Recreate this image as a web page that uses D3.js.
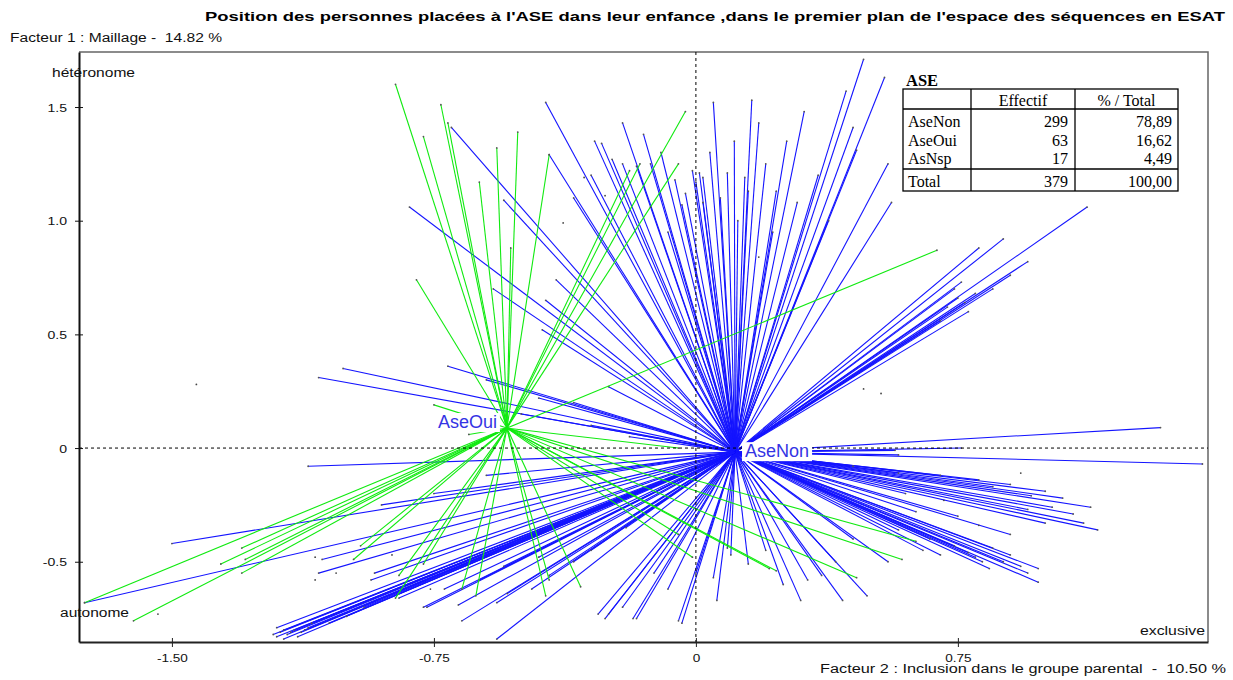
<!DOCTYPE html>
<html>
<head>
<meta charset="utf-8">
<script src="https://cdn.jsdelivr.net/npm/d3@7"></script>
<style>
  html, body { margin: 0; padding: 0; background: #fff; }
  svg { display: block; }
  text { white-space: pre; }
</style>
</head>
<body>
<svg id="chart" width="1233" height="680"></svg>
<script>
// ---- data -------------------------------------------------------------
const titleText = "Position des personnes placées à l'ASE dans leur enfance ,dans le premier plan de l'espace des séquences en ESAT";
const factor1Label = "Facteur 1 : Maillage -  14.82 %";
const factor2Label = "Facteur 2 : Inclusion dans le groupe parental  -  10.50 %";

const xTicks = [-1.5, -0.75, 0, 0.75];
const xTickLabels = ["-1.50", "-0.75", "0", "0.75"];
const yTicks = [1.5, 1.0, 0.5, 0, -0.5];
const yTickLabels = ["1.5", "1.0", "0.5", "0", "-0.5"];

// category barycentres (factor 2, factor 1)
const aseNonCenter = [0.112, -0.018];
const aseOuiCenter = [-0.541, 0.088];

// individuals of category AseNon
const aseNonPoints = [
  [-0.82,1.06],[-0.70,1.41],[-0.43,1.52],[-0.55,1.09],[-0.58,0.70],[-0.40,0.74],[-0.43,0.65],[-0.44,0.52],
  [-0.42,1.29],[-0.29,1.35],[-0.27,1.34],[-0.24,1.27],[-0.21,1.25],[-0.21,1.43],[-0.15,1.38],[-0.13,1.25],
  [-0.17,1.24],[-0.01,1.22],[0.01,1.21],[-0.04,1.07],[-0.03,1.12],[0.00,1.17],[0.02,1.19],[0.02,1.08],
  [0.05,1.52],[0.09,1.21],[0.14,1.19],[0.15,1.13],[0.16,1.53],[0.18,1.43],[0.23,1.13],[0.29,1.08],
  [0.31,1.48],[0.48,1.71],[0.54,1.63],[0.43,1.57],[0.45,1.41],[0.46,1.31],[0.55,1.25],[0.56,1.08],
  [-0.10,1.30],[-0.06,1.18],[0.04,1.30],[0.07,1.10],[0.11,1.35],[0.12,1.00],[0.20,1.25],[0.26,1.35],
  [0.35,1.20],[0.38,1.00],[-0.35,1.10],[-0.30,1.20],[-0.08,0.95],[0.22,0.95],
  [0.81,0.88],[0.88,0.92],[1.12,1.06],[0.95,0.82],[0.76,0.73],[0.77,0.64],[0.74,0.70],[0.80,0.68],
  [0.72,0.62],[0.75,0.66],[0.78,0.60],[0.70,0.56],[0.85,0.70],[0.90,0.76],
  [-1.01,0.35],[-1.08,0.31],[-0.71,0.36],[-1.11,-0.08],[-0.19,0.05],
  [-0.35,0.20],[-0.45,0.22],[-0.60,0.30],[-0.25,0.27],[-0.50,0.15],[-0.30,0.10],
  [-0.90,-0.25],[-0.75,-0.20],[-0.60,-0.12],
  [1.33,0.09],[1.45,-0.07],[0.76,0.00],[0.57,-0.01],[0.58,-0.03],[1.00,-0.19],[1.13,-0.26],[1.02,-0.26],
  [1.11,-0.33],[1.15,-0.36],[0.90,-0.16],[0.96,-0.21],[0.81,-0.14],[0.58,-0.11],
  [0.45,-0.08],[0.70,-0.12],[0.85,-0.17],[1.05,-0.22],[1.08,-0.29],[0.95,-0.27],[1.00,-0.33],[0.90,-0.38],
  [0.60,-0.20],[0.75,-0.30],
  [0.85,-0.44],[0.98,-0.53],[0.98,-0.59],[0.84,-0.53],[0.63,-0.28],[0.70,-0.47],[0.49,-0.65],[0.42,-0.67],
  [0.80,-0.48],[0.74,-0.43],[0.67,-0.40],[0.58,-0.36],[0.88,-0.50],[0.93,-0.52],
  [0.78,-0.46],[0.82,-0.50],[0.90,-0.47],[0.95,-0.55],[0.65,-0.45],[0.55,-0.50],[0.45,-0.40],[0.40,-0.50],
  [0.25,-0.60],[0.20,-0.45],
  [0.30,-0.67],[0.32,-0.58],[0.36,-0.56],[0.15,-0.51],[0.10,-0.47],[0.09,-0.44],[0.06,-0.67],[0.05,-0.57],
  [-0.04,-0.77],[-0.05,-0.76],[-0.18,-0.75],[-0.17,-0.75],[-0.21,-0.70],[-0.25,-0.73],[-0.28,-0.73],[-0.26,-0.75],
  [-0.20,-0.35],[-0.12,-0.55],[-0.08,-0.62],[0.00,-0.55],
  [-0.57,-0.84],[-0.67,-0.76],[-0.77,-0.70],[-0.68,-0.69],[-0.42,-0.56],[-0.47,-0.62],[-0.54,-0.64],[-0.57,-0.68],
  [-0.30,-0.45],[-0.35,-0.50],[-0.45,-0.48],[-0.55,-0.52],[-0.62,-0.58],[-0.72,-0.62],[-0.85,-0.66],[-0.95,-0.70],
  [-1.00,-0.74],[-1.05,-0.77],
  [-0.78,-0.70],[-0.92,-0.55],[-0.93,-0.58],[-1.07,-0.49],[-1.08,-0.55],[-1.50,-0.42],[-1.75,-0.68],
  [-1.20,-0.83],[-1.18,-0.84],[-1.16,-0.81],[-1.14,-0.83],[-1.12,-0.80],[-1.18,-0.80],[-1.11,-0.79],
  [-1.20,-0.79],[-1.17,-0.82],[-1.13,-0.81],[-1.19,-0.81],[-1.15,-0.80],[-1.10,-0.77],[-1.21,-0.82]
];

// individuals of category AseOui
const aseOuiPoints = [
  [-0.86,1.60],[-0.73,1.51],[-0.78,1.37],[-0.80,0.74],[-0.71,1.43],[-0.51,1.39],[-0.57,1.32],[-0.62,1.17],
  [-0.53,0.88],[-0.42,1.29],[-0.03,1.48],[-0.16,1.25],[-0.05,1.25],[-0.19,1.22],[0.69,0.87],
  [0.23,-0.54],[0.21,-0.53],[-0.01,-0.48],[-0.05,-0.38],[-0.43,-0.65],[-0.33,-0.61],[-0.42,-0.58],
  [-0.63,-0.65],[-0.67,-0.62],[0.63,-0.41],[0.59,-0.49],[0.46,-0.57],
  [-1.75,-0.68],[-1.61,-0.76],[-1.36,-0.51],[-1.30,-0.44],[-1.29,-0.49],[-1.30,-0.55],[-0.98,-0.49],
  [-0.96,-0.43],[-0.86,-0.66],[-0.85,-0.56],[-0.78,-0.51],[-0.75,0.19],[-0.65,0.06],[-0.05,0.00]
];

// individuals without an answer (AsNsp), shown as bare points
const asNspPoints = [
  [-1.43,0.28],[-1.54,-0.73],[-1.09,-0.48],[-1.03,-0.55],[-1.09,-0.58],[-0.87,-0.47],[-0.76,-0.62],
  [0.48,0.26],[0.53,0.24],[0.93,-0.11],[0.81,-0.34],[0.71,-0.23],[-0.38,0.99],[-0.32,1.19],
  [-0.26,1.11],[-0.13,1.06],[0.18,0.84]
];

// frequency table
const tableTitle = "ASE";
const tableHeaders = ["Effectif", "% / Total"];
const tableRows = ["AseNon", "AseOui", "AsNsp"];
const tableCounts = [299, 63, 17];
const tablePercents = ["78,89", "16,62", "4,49"];
const totalLabel = "Total";
const totalCount = 379;
const totalPercent = "100,00";

// ---- layout -------------------------------------------------------------
const svg = d3.select("#chart");
const pL = 79, pR = 1208, pT = 52, pB = 642;
const sans = "Arial, 'Liberation Sans', sans-serif";
const serif = "'Times New Roman', 'Liberation Serif', serif";

const x = d3.scaleLinear().domain([-1.766, 1.466]).range([pL, pR]);
const y = d3.scaleLinear().domain([-0.853, 1.742]).range([pB, pT]);

svg.append("rect").attr("width", 1233).attr("height", 680).attr("fill", "#fff");

// stretch a text node horizontally to a target width (or by a factor)
function stretch(sel, target) {
  sel.each(function () {
    const w = this.getComputedTextLength();
    const t = typeof target === "number" && target > 5 ? target : w * (target || 1.2);
    d3.select(this).attr("textLength", t).attr("lengthAdjust", "spacingAndGlyphs");
  });
}

// titles
svg.append("text").attr("x", 205).attr("y", 21)
  .attr("font-family", sans).attr("font-size", 13.5).attr("font-weight", "bold")
  .text(titleText).call(stretch, 1020);
svg.append("text").attr("x", 10).attr("y", 42)
  .attr("font-family", sans).attr("font-size", 12.5).attr("fill", "#111")
  .text(factor1Label).call(stretch, 212);
svg.append("text").attr("x", 820).attr("y", 673)
  .attr("font-family", sans).attr("font-size", 12.5).attr("fill", "#111")
  .text(factor2Label).call(stretch, 406);

// plot frame (top and right)
svg.append("path")
  .attr("d", `M${pL},${pT}H${pR}V${pB}`)
  .attr("fill", "none").attr("stroke", "#666").attr("stroke-width", 1.5);

svg.append("clipPath").attr("id", "plot-clip")
  .append("rect").attr("x", pL).attr("y", pT).attr("width", pR - pL).attr("height", pB - pT);

const plot = svg.append("g").attr("clip-path", "url(#plot-clip)");

// rays from each barycentre to its individuals
function rays(points, center, color) {
  const g = plot.append("g");
  g.selectAll("line").data(points).join("line")
    .attr("x1", x(center[0])).attr("y1", y(center[1]))
    .attr("x2", d => x(d[0])).attr("y2", d => y(d[1]))
    .attr("stroke", color).attr("stroke-width", 1.1);
  g.selectAll("circle").data(points).join("circle")
    .attr("cx", d => x(d[0])).attr("cy", d => y(d[1])).attr("r", 0.9)
    .attr("fill", "#555");
}
rays(aseNonPoints, aseNonCenter, "#1414ff");
rays(aseOuiPoints, aseOuiCenter, "#10ea10");

plot.append("g").selectAll("circle").data(asNspPoints).join("circle")
  .attr("cx", d => x(d[0])).attr("cy", d => y(d[1])).attr("r", 0.9).attr("fill", "#444");

// zero reference lines
plot.append("line").attr("x1", x(0)).attr("x2", x(0)).attr("y1", pT).attr("y2", pB)
  .attr("stroke", "#000").attr("stroke-dasharray", "3,3");
plot.append("line").attr("x1", pL).attr("x2", pR).attr("y1", y(0)).attr("y2", y(0))
  .attr("stroke", "#000").attr("stroke-dasharray", "3,3");

// category labels on white boxes
function centerLabel(name, center, anchor, dx, dy) {
  const g = svg.append("g");
  const t = g.append("text")
    .attr("x", x(center[0]) + dx).attr("y", y(center[1]) + dy)
    .attr("text-anchor", anchor)
    .attr("font-family", sans).attr("font-size", 18).attr("fill", "#3434e4")
    .text(name);
  const b = t.node().getBBox();
  g.insert("rect", "text").attr("x", b.x - 3).attr("y", b.y + 1)
    .attr("width", b.width + 6).attr("height", b.height - 1).attr("fill", "#fff");
}
centerLabel("AseOui", aseOuiCenter, "end", -10, 0);
centerLabel("AseNon", aseNonCenter, "start", 10, 5);

// axes
const xAxis = svg.append("g").attr("transform", `translate(0,${pB})`)
  .call(d3.axisBottom(x).tickValues(xTicks).tickFormat((d, i) => xTickLabels[i]).tickSize(5).tickSizeOuter(0));
xAxis.select(".domain").attr("stroke", "#222").attr("stroke-width", 2);
xAxis.selectAll(".tick line").attr("y1", -4).attr("y2", 5).attr("stroke", "#222");
xAxis.selectAll(".tick text").attr("y", 20).attr("dy", 0)
  .attr("font-family", sans).attr("font-size", 11.5).attr("fill", "#111").call(stretch, 1.18);

const yAxis = svg.append("g").attr("transform", `translate(${pL},0)`)
  .call(d3.axisLeft(y).tickValues(yTicks).tickFormat((d, i) => yTickLabels[i]).tickSize(4).tickSizeOuter(0));
yAxis.select(".domain").attr("stroke", "#111").attr("stroke-width", 2);
yAxis.selectAll(".tick line").attr("x1", -4).attr("x2", 4).attr("stroke", "#111");
yAxis.selectAll(".tick text").attr("x", -12).attr("dy", "0.36em")
  .attr("font-family", sans).attr("font-size", 11.5).attr("fill", "#111").call(stretch, 1.22);

// pole labels
svg.append("text").attr("x", 52).attr("y", 77).attr("font-family", sans).attr("font-size", 12.5)
  .attr("fill", "#111").text("hétéronome").call(stretch, 83);
svg.append("text").attr("x", 60).attr("y", 617).attr("font-family", sans).attr("font-size", 12.5)
  .attr("fill", "#111").text("autonome").call(stretch, 69);
svg.append("text").attr("x", 1205).attr("y", 635).attr("text-anchor", "end").attr("font-family", sans)
  .attr("font-size", 12.5).attr("fill", "#111").text("exclusive").call(stretch, 65);

// frequency table
const tbl = svg.append("g").attr("font-family", serif).attr("font-size", 16).attr("fill", "#000");
const tx0 = 903, tx1 = 971, tx2 = 1075, tx3 = 1178;
const ty0 = 89, tyHead = 109, tySep = 169, ty1 = 191;
tbl.append("text").attr("x", 906).attr("y", 86).attr("font-weight", "bold").attr("font-size", 16.5).text(tableTitle);
tbl.append("rect").attr("x", tx0).attr("y", ty0).attr("width", tx3 - tx0).attr("height", ty1 - ty0)
  .attr("fill", "#fff").attr("stroke", "#000").attr("stroke-width", 1.3);
[[tx1, ty0, tx1, ty1], [tx2, ty0, tx2, ty1], [tx0, tyHead, tx3, tyHead], [tx0, tySep, tx3, tySep]]
  .forEach(l => tbl.append("line").attr("x1", l[0]).attr("y1", l[1]).attr("x2", l[2]).attr("y2", l[3])
    .attr("stroke", "#000").attr("stroke-width", 1.3));
tbl.append("text").attr("x", (tx1 + tx2) / 2).attr("y", 106).attr("text-anchor", "middle").text(tableHeaders[0]);
tbl.append("text").attr("x", (tx2 + tx3) / 2).attr("y", 106).attr("text-anchor", "middle").text(tableHeaders[1]);
const rowY = [127, 146, 164];
tableRows.forEach((r, i) => {
  tbl.append("text").attr("x", 908).attr("y", rowY[i]).text(r);
  tbl.append("text").attr("x", 1068).attr("y", rowY[i]).attr("text-anchor", "end").text(tableCounts[i]);
  tbl.append("text").attr("x", 1172).attr("y", rowY[i]).attr("text-anchor", "end").text(tablePercents[i]);
});
tbl.append("text").attr("x", 908).attr("y", 187).text(totalLabel);
tbl.append("text").attr("x", 1068).attr("y", 187).attr("text-anchor", "end").text(totalCount);
tbl.append("text").attr("x", 1172).attr("y", 187).attr("text-anchor", "end").text(totalPercent);
</script>
</body>
</html>
